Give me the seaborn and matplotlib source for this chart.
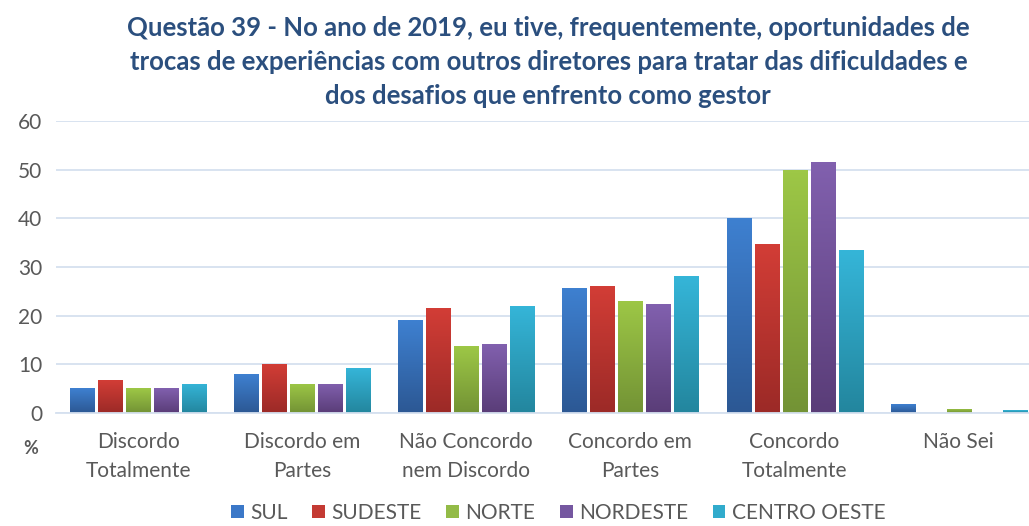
import numpy as np
import pandas as pd
import matplotlib
matplotlib.use('Agg')
import matplotlib.pyplot as plt
from matplotlib.colors import LinearSegmentedColormap
import seaborn as sns

# data (%)
categories = ['Discordo\nTotalmente', 'Discordo em\nPartes', 'Não Concordo\nnem Discordo',
              'Concordo em\nPartes', 'Concordo\nTotalmente', 'Não Sei']
regions = ['SUL', 'SUDESTE', 'NORTE', 'NORDESTE', 'CENTRO OESTE']
sul = [5.1, 8.0, 19.0, 25.6, 40.0, 1.8]
sudeste = [6.7, 10.1, 21.5, 26.1, 34.7, 0.0]
norte = [5.1, 6.0, 13.7, 23.1, 49.9, 0.9]
nordeste = [5.1, 6.0, 14.1, 22.4, 51.5, 0.0]
centro_oeste = [6.0, 9.2, 21.9, 28.1, 33.5, 0.5]

title = ('Questão 39 - No ano de 2019, eu tive, frequentemente, oportunidades de\n'
         'trocas de experiências com outros diretores para tratar das dificuldades e\n'
         'dos desafios que enfrento como gestor')

df = pd.DataFrame({
    'categoria': categories * 5,
    'regiao': np.repeat(regions, len(categories)),
    'valor': sul + sudeste + norte + nordeste + centro_oeste,
})

# base colours and (bottom, top) gradient colours, Excel 2007 style
base = ['#3B78C8', '#C43A33', '#93BB47', '#7557A0', '#31ABCC']
grads = [('#2C5894', '#3E80D0'), ('#9C2A27', '#D23D36'), ('#739335', '#9DC746'),
         ('#5A3D78', '#8160AE'), ('#23869E', '#35B5D8')]

sns.set_style('white')
plt.rcParams['font.family'] = ['Lato', 'DejaVu Sans']

fig = plt.figure(figsize=(10.29, 5.26), dpi=100)
ax = fig.add_axes([0.0544, 0.215, 0.957, 0.555])

sns.barplot(data=df, x='categoria', y='valor', hue='regiao', hue_order=regions,
            palette=base, width=0.853, gap=0.14, ax=ax, saturation=1,
            edgecolor='none', legend=True)

# vertical gradient inside each bar
ramp = np.linspace(0, 1, 64).reshape(-1, 1)
for container, (bot, top) in zip(ax.containers, grads):
    cmap = LinearSegmentedColormap.from_list('g', [bot, top])
    for bar in container:
        h = bar.get_height()
        if h <= 0:
            continue
        x0, w = bar.get_x(), bar.get_width()
        im = ax.imshow(ramp, extent=[x0, x0 + w, 0, h], origin='lower', cmap=cmap,
                       aspect='auto', zorder=bar.get_zorder() + 0.1, interpolation='bilinear')
        im.set_clip_path(bar)

ax.set_aspect('auto')
ax.set_xlim(-0.5, 5.5)
ax.set_ylim(0, 60)
ax.set_yticks(range(0, 61, 10))
ax.yaxis.grid(True, color='#D5E0EF', linewidth=1.3)
ax.set_axisbelow(True)
for s in ['top', 'right', 'left']:
    ax.spines[s].set_visible(False)
ax.spines['bottom'].set_color('#D5E0EF')
ax.spines['bottom'].set_linewidth(1.3)
ax.tick_params(axis='both', length=0, labelsize=15, labelcolor='#595959')
ax.tick_params(axis='y', pad=10)
ax.tick_params(axis='x', pad=14)
for lbl in ax.get_xticklabels():
    lbl.set_linespacing(1.55)
ax.set_xlabel('')
ax.set_ylabel('')

ax.set_title(title, fontsize=18.5, fontweight='bold', color='#2B4F7E', pad=12, linespacing=1.52)
fig.text(0.03, 0.148, '%', fontsize=13, fontweight='bold', color='#595959', ha='center', va='center')

ax.legend(loc='lower center', bbox_to_anchor=(0.51, -0.42), ncol=5, frameon=False,
          fontsize=15, handlelength=0.6, handleheight=0.6, handletextpad=0.3,
          columnspacing=1.2, labelcolor='#595959', borderpad=0.1)

fig.savefig('out.png', dpi=100)
